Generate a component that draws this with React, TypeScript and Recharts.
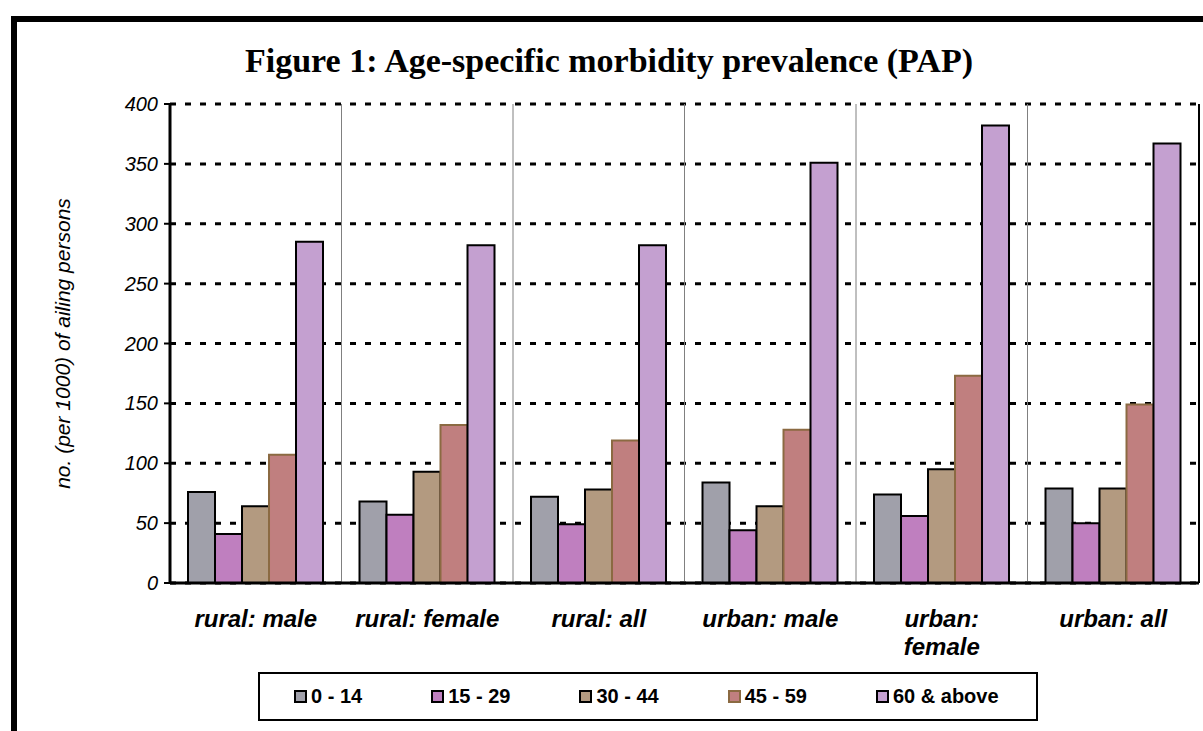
import { BarChart, Bar, XAxis, YAxis, CartesianGrid, Legend, ReferenceLine } from 'recharts';

const categories = ['rural: male', 'rural: female', 'rural: all', 'urban: male', 'urban:\nfemale', 'urban: all'];
const age0to14 = [76, 68, 72, 84, 74, 79];
const age15to29 = [41, 57, 49, 44, 56, 50];
const age30to44 = [64, 93, 78, 64, 95, 79];
const age45to59 = [107, 132, 119, 128, 173, 149];
const age60plus = [285, 282, 282, 351, 382, 367];
const yTicks = [0, 50, 100, 150, 200, 250, 300, 350, 400];

const series = [
  { key: 'a0', name: '0 - 14', fill: '#A0A0AA', stroke: '#000' },
  { key: 'a15', name: '15 - 29', fill: '#BF7FBF', stroke: '#000' },
  { key: 'a30', name: '30 - 44', fill: '#B39A80', stroke: '#000' },
  { key: 'a45', name: '45 - 59', fill: '#C07F7F', stroke: '#8B6A42' },
  { key: 'a60', name: '60 & above', fill: '#C4A0D0', stroke: '#000' }
];

const data = categories.map((name, i) => ({
  name,
  a0: age0to14[i],
  a15: age15to29[i],
  a30: age30to44[i],
  a45: age45to59[i],
  a60: age60plus[i]
}));

const sans = '"Liberation Sans", Arial, sans-serif';

const CategoryTick = ({ x, y, payload }: any) => {
  const lines = String(payload.value).split('\n');
  return (
    <text x={x} y={y} textAnchor="middle" fill="#000" fontFamily={sans} fontSize={24} fontWeight="bold" fontStyle="italic">
      {lines.map((line, i) => (
        <tspan key={i} x={x} dy={i === 0 ? 44 : 28}>{line}</tspan>
      ))}
    </text>
  );
};

// axis title sits left of the tick labels, centred on the plot height
const YTitle = ({ viewBox }: any) => {
  const cx = viewBox.x + viewBox.width - 108;
  const cy = viewBox.y + viewBox.height / 2;
  return (
    <text x={cx} y={cy} transform={`rotate(-90, ${cx}, ${cy})`} textAnchor="middle" dominantBaseline="central"
      fill="#000" fontFamily={sans} fontSize={21} fontStyle="italic">
      no. (per 1000) of ailing persons
    </text>
  );
};

const LegendBox = () => (
  <div style={{
    boxSizing: 'border-box', width: '100%', height: '100%', border: '2px solid #000', background: '#fff',
    display: 'flex', alignItems: 'center', paddingLeft: 34, gap: 69,
    fontFamily: sans, fontSize: 20, fontWeight: 'bold', color: '#000'
  }}>
    {series.map(s => (
      <div key={s.key} style={{ display: 'flex', alignItems: 'center' }}>
        <span style={{ boxSizing: 'border-box', width: 13, height: 13, background: s.fill, border: `2px solid ${s.stroke}`, marginRight: 4 }} />
        <span>{s.name}</span>
      </div>
    ))}
  </div>
);

export default function App() {
  return (
    <div style={{ position: 'absolute', left: 0, top: 0, width: 1203, height: 731, background: '#fff', overflow: 'hidden' }}>
      <div style={{ position: 'absolute', left: 11, top: 16, width: 1300, height: 800, borderTop: '6px solid #000', borderLeft: '6px solid #000' }} />
      <div style={{
        position: 'absolute', left: 0, top: 42, width: 1218, textAlign: 'center',
        fontFamily: '"Liberation Serif", "Times New Roman", serif', fontSize: 34, fontWeight: 'bold', color: '#000'
      }}>
        Figure 1: Age-specific morbidity prevalence (PAP)
      </div>
      <BarChart width={1203} height={731} data={data} barCategoryGap="10.5%" barGap={0}
        margin={{ top: 104, right: 4, bottom: 118, left: 0 }} style={{ position: 'absolute', left: 0, top: 0 }}>
        <CartesianGrid vertical={false} stroke="#000" strokeWidth={3} strokeDasharray="6 9" />
        <XAxis dataKey="name" height={30} tickSize={0} tickMargin={0} interval={0}
          axisLine={{ stroke: '#000', strokeWidth: 3 }} tickLine={false} tick={<CategoryTick />} />
        <YAxis width={170} domain={[0, 400]} ticks={yTicks} interval={0} tickSize={6} tickMargin={6}
          axisLine={{ stroke: '#000', strokeWidth: 3 }} tickLine={{ stroke: '#000', strokeWidth: 2 }}
          tick={{ fill: '#000', fontSize: 20, fontStyle: 'italic', fontFamily: sans }}
          label={<YTitle />} />
        {categories.map((c, i) => (
          <ReferenceLine key={c} x={c} position="end"
            stroke={i === categories.length - 1 ? '#000' : '#808080'} strokeWidth={i === categories.length - 1 ? 2 : 1} />
        ))}
        {series.map(s => (
          <Bar key={s.key} dataKey={s.key} name={s.name} fill={s.fill} stroke={s.stroke} strokeWidth={2} isAnimationActive={false} />
        ))}
        <Legend layout="horizontal" verticalAlign="middle" align="center" content={<LegendBox />}
          wrapperStyle={{ left: 258, top: 672, width: 780, height: 49 }} />
      </BarChart>
    </div>
  );
}
